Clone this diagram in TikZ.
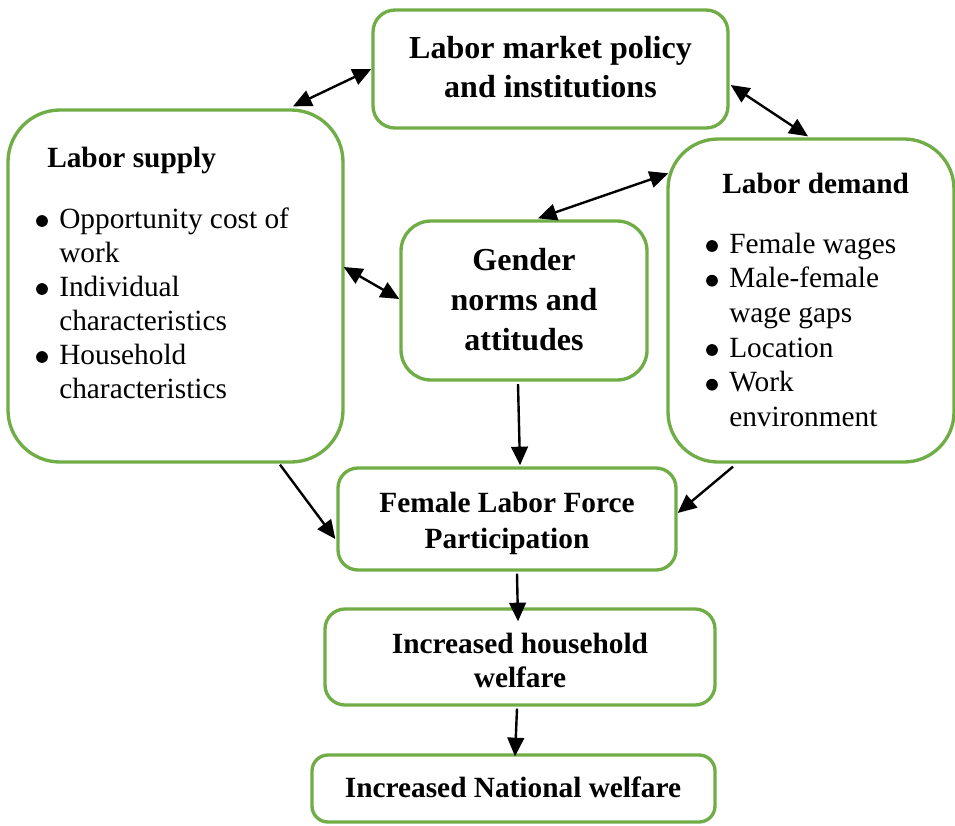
\documentclass[tikz,border=0pt]{standalone}
\usepackage{fontspec}
\setmainfont{Liberation Serif}
\usetikzlibrary{arrows.meta,calc}
\definecolor{boxgreen}{HTML}{70AD47}
% hanging indent of the factor lists
\newcommand{\itemgap}{\makebox[18pt]{}}
\begin{document}
\begin{tikzpicture}[x=0.75pt,y=-0.75pt,
  box/.style={draw=boxgreen, line width=2.5pt, fill=white, rounded corners=#1, inner sep=0pt},
  bigtitle/.style={inner sep=0pt, anchor=base, font=\fontsize{24pt}{#1}\selectfont\bfseries},
  title/.style={inner sep=0pt, font=\fontsize{22pt}{#1}\selectfont\bfseries},
  listtext/.style={inner sep=0pt, anchor=base west, font=\fontsize{22pt}{#1}\selectfont},
  dot/.style={fill=black},
  tip/.tip={Triangle[length=14pt,width=12.5pt]},
  arr/.style={-tip, line width=1.8pt},
  biarr/.style={tip-tip, line width=1.8pt}]
\useasboundingbox (0,0) rectangle (955,825);

% boxes
\node[box=16.5pt, minimum width=266.25pt, minimum height=88.5pt]  (lmp)  at (550.5,69)   {};
\node[box=39pt,   minimum width=251.25pt, minimum height=264pt]   (ls)   at (175.5,286)  {};
\node[box=22.5pt, minimum width=184.5pt,  minimum height=119.25pt](gn)   at (524,300.5)  {};
\node[box=37.5pt, minimum width=214.5pt,  minimum height=242.25pt](ld)   at (811,300.5)  {};
\node[box=15pt,   minimum width=253.5pt,  minimum height=76.5pt]  (flfp) at (507,519)    {};
\node[box=15pt,   minimum width=292.5pt,  minimum height=72pt]    (hh)   at (520,657)    {};
\node[box=12pt,   minimum width=302.25pt, minimum height=50.25pt] (nw)   at (513.5,788.5){};

% texts
\node[bigtitle=29.25pt] (lmpt) at (550.5,58)
  {\begin{tabular}[t]{@{}c@{}}Labor market policy\\ and institutions\end{tabular}};
\node[title=25pt, anchor=base west] (lst) at (47,167) {Labor supply};
\node[listtext=25.5pt] (lsl) at (35,228)
  {\begin{tabular}[t]{@{}l@{}}\itemgap Opportunity cost of\\ \itemgap work\\
   \itemgap Individual\\ \itemgap characteristics\\
   \itemgap Household\\ \itemgap characteristics\end{tabular}};
\node[title=25pt, anchor=base west] (ldt) at (722,193) {Labor demand};
\node[listtext=26pt] (ldl) at (705,253)
  {\begin{tabular}[t]{@{}l@{}}\itemgap Female wages\\ \itemgap Male-female\\
   \itemgap wage gaps\\ \itemgap Location\\ \itemgap Work\\
   \itemgap environment\end{tabular}};
\node[bigtitle=30pt] (gnt) at (524,270)
  {\begin{tabular}[t]{@{}c@{}}Gender\\ norms and\\ attitudes\end{tabular}};
\node[title=27pt, anchor=base] (flfpt) at (507,512)
  {\begin{tabular}[t]{@{}c@{}}Female Labor Force\\ Participation\end{tabular}};
\node[title=25.5pt, anchor=base] (hht) at (520,653)
  {\begin{tabular}[t]{@{}c@{}}Increased household\\ welfare\end{tabular}};
\node[title=25pt, anchor=base] (nwt) at (513,797) {Increased National welfare};

% list bullets
\foreach \y in {221,289,357} \fill[dot] (42,\y) circle[radius=4.4pt];
\foreach \y in {246,280.7,350,384.7} \fill[dot] (712,\y) circle[radius=4.4pt];

% two-way links
\draw[biarr] ($(ls.north)+(117.5,-2)$) -- (lmp.west);
\draw[biarr] ($(lmp.east)+(1,16)$) -- ($(ld.north)+(-3,-1)$);
\draw[biarr] ($(gn.north)+(14,-1)$) -- ($(ld.north west)+(2,36)$);
\draw[biarr] ($(ls.east)+(-1,-19)$) -- ($(gn.west)+(0,-1.5)$);

% one-way links
\draw[arr] ($(gn.south)+(-6,2.5)$) -- ($(flfp.north)+(13,-1)$);
\draw[arr] ($(ls.south)+(104.5,1)$) -- ($(flfp.west)+(-1,20)$);
\draw[arr] ($(ld.south)+(-78,3)$) -- ($(flfp.east)+(0,-6)$);
\draw[arr] ($(flfp.south)+(10,2)$) -- ($(hh.north)+(-2,14)$);
\draw[arr] ($(hh.south)+(-3,2)$) -- ($(nw.north)+(1.5,3)$);
\end{tikzpicture}
\end{document}
